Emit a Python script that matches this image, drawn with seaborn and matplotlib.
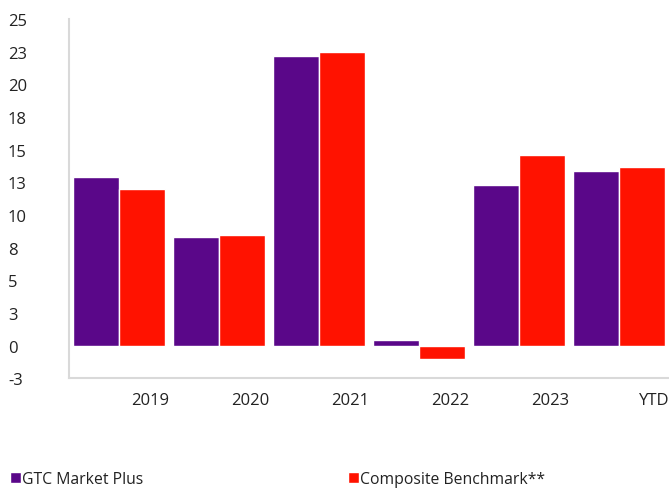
import matplotlib
matplotlib.use("Agg")
import matplotlib.pyplot as plt
import pandas as pd
import seaborn as sns

# data
years = ["2019", "2020", "2021", "2022", "2023", "YTD"]
gtc_market_plus = [12.9, 8.3, 22.2, 0.4, 12.3, 13.4]
composite_benchmark = [12.0, 8.5, 22.5, -1.0, 14.6, 13.7]
series_names = ["GTC Market Plus", "Composite Benchmark**"]
ytick_values = [-2.5, 0, 2.5, 5, 7.5, 10, 12.5, 15, 17.5, 20, 22.5, 25]
ytick_labels = ["-3", "0", "3", "5", "8", "10", "13", "15", "18", "20", "23", "25"]

colors = ["#5a0789", "#ff1200"]
grey = "#d9d9d9"
text_col = "#222222"

df = pd.DataFrame({
    "year": years * 2,
    "value": gtc_market_plus + composite_benchmark,
    "series": [series_names[0]] * len(years) + [series_names[1]] * len(years),
})

sns.set_style("white")
plt.rcParams["font.family"] = ["Open Sans", "DejaVu Sans"]

fig = plt.figure(figsize=(6.69, 4.89), dpi=100)
ax = fig.add_axes([69 / 669, 1 - 379.3 / 489, 600 / 669, (379.3 - 20) / 489])

sns.barplot(data=df, x="year", y="value", hue="series", palette=colors,
            width=0.92, gap=0.02, saturation=1, ax=ax, legend=True)

ax.set_ylim(-2.5, 25)
ax.set_xlim(-0.5, 5.5)
ax.set_xlabel("")
ax.set_ylabel("")

for side in ["top", "right"]:
    ax.spines[side].set_visible(False)
for side in ["left", "bottom"]:
    ax.spines[side].set_color(grey)
    ax.spines[side].set_linewidth(1.5)

# y ticks: grey marks, labels left aligned at the figure edge
ax.set_yticks(ytick_values)
ax.set_yticklabels(ytick_labels)
ax.tick_params(axis="y", length=10, width=1.5, color=grey, pad=34,
               labelsize=12, labelcolor=text_col)
for lab in ax.get_yticklabels():
    lab.set_horizontalalignment("left")

# x ticks: long separators at category boundaries, labels right aligned
bounds = [i - 0.5 for i in range(len(years) + 1)]
ax.set_xticks(bounds)
ax.set_xticklabels([""] + years)
ax.tick_params(axis="x", length=36.7, width=1.5, color=grey, pad=-27,
               labelsize=12, labelcolor=text_col)
for lab in ax.get_xticklabels():
    lab.set_horizontalalignment("right")

ax.get_legend().remove()
handles, labels = ax.get_legend_handles_labels()
fig.legend(handles, labels, loc="center left", bbox_to_anchor=(2 / 669, 9 / 489),
           ncol=2, frameon=False, fontsize=11.3, handlelength=0.7,
           handleheight=0.7, handletextpad=0.1, columnspacing=13.0,
           borderpad=0, labelcolor=text_col)

fig.savefig("out.png", dpi=100)
